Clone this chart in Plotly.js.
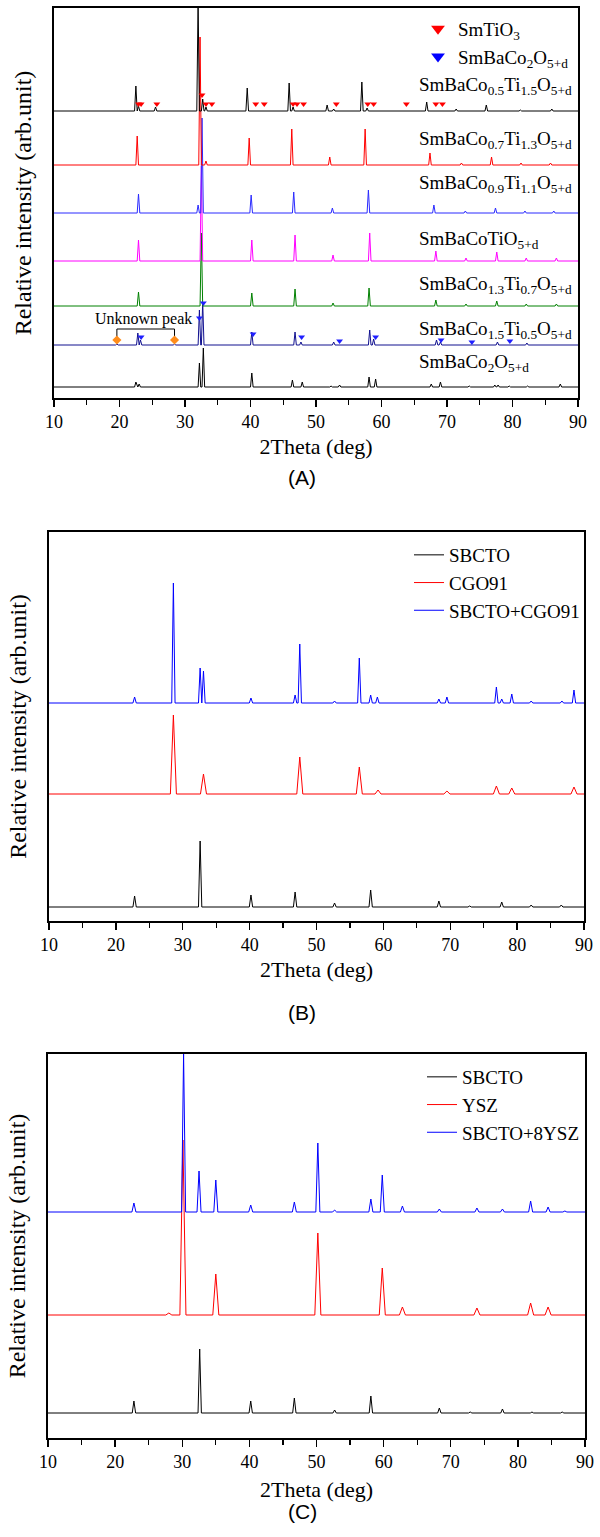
<!DOCTYPE html>
<html><head><meta charset="utf-8">
<script src="https://cdn.plot.ly/plotly-3.0.1.min.js"></script>
<style>html,body{margin:0;padding:0;background:#fff}#chart{width:600px;height:1537px}</style>
</head><body><div id="chart"></div>
<script>
// ---------- Panel A data (peak position in 2Theta, relative intensity) ----------
const A_labels = [
  'SmBaCo<sub>0.5</sub>Ti<sub>1.5</sub>O<sub>5+d</sub>',
  'SmBaCo<sub>0.7</sub>Ti<sub>1.3</sub>O<sub>5+d</sub>',
  'SmBaCo<sub>0.9</sub>Ti<sub>1.1</sub>O<sub>5+d</sub>',
  'SmBaCoTiO<sub>5+d</sub>',
  'SmBaCo<sub>1.3</sub>Ti<sub>0.7</sub>O<sub>5+d</sub>',
  'SmBaCo<sub>1.5</sub>Ti<sub>0.5</sub>O<sub>5+d</sub>',
  'SmBaCo<sub>2</sub>O<sub>5+d</sub>'
];
const a1_pos = [22.5, 22.9, 25.5, 32.0, 32.7, 33.2, 39.5, 45.9, 46.5, 51.7, 52.7, 57.0, 57.8, 66.9, 71.4, 76.0, 81.2, 86.0];
const a1_int = [25, 5, 4, 110, 12, 4, 23, 28, 4, 6, 2, 29, 3, 9, 2, 6, 1, 2];
const a2_pos = [22.7, 32.3, 33.2, 39.8, 46.3, 52.1, 57.5, 67.4, 72.2, 76.8, 81.3, 85.8];
const a2_int = [29, 128, 4, 27, 36, 8, 36, 12, 2, 8, 2, 2];
const a3_pos = [22.9, 32.0, 32.6, 40.1, 46.6, 52.5, 58.0, 68.0, 72.8, 77.4, 81.9, 86.3];
const a3_int = [19, 8, 95, 18, 21, 5, 23, 8, 2, 5, 2, 2];
const a4_pos = [22.9, 32.5, 40.2, 46.8, 52.6, 58.2, 68.3, 72.9, 77.6, 82.1, 86.7];
const a4_int = [21, 95, 21, 26, 6, 28, 10, 3, 9, 3, 3];
const a5_pos = [22.9, 32.5, 40.2, 46.8, 52.6, 58.1, 68.3, 72.9, 77.6, 82.1, 86.7];
const a5_int = [14, 73, 13, 17, 3, 18, 6, 2, 5, 2, 2];
const a6_pos = [19.6, 22.8, 23.2, 28.4, 32.2, 32.7, 40.2, 46.8, 47.7, 52.7, 58.2, 58.8, 68.4, 69.0, 77.7, 82.2];
const a6_int = [1, 12, 5, 1, 35, 43, 13, 13, 3, 3, 15, 6, 5, 3, 3, 2];
const a7_pos = [22.5, 23.0, 32.2, 32.8, 40.2, 46.4, 47.9, 52.3, 53.6, 58.1, 59.1, 67.6, 69.0, 73.4, 77.3, 77.8, 79.5, 82.3, 87.3];
const a7_int = [5, 3, 24, 39, 14, 7, 5, 1, 2, 10, 8, 3, 5, 1, 2, 2, 1, 1, 3];
// phase markers
const smtio3_x = [22.9, 23.3, 25.7, 32.6, 33.2, 34.1, 40.8, 42.1, 46.5, 47.1, 48.1, 53.1, 57.9, 58.8, 63.8, 68.3, 69.3];
const smtio3_y = [294, 294, 294, 303, 294, 294, 294, 294, 294, 294, 294, 294, 294, 294, 294, 294, 294];
const sbco_x = [23.3, 32.2, 32.8, 40.4, 47.8, 53.6, 59.1, 69.1, 73.8, 79.6];
const sbco_y = [61, 80, 95, 64, 61, 57, 61, 58, 56, 57];
const unknown_x = [19.6, 28.4];
const unknown_y = [58, 58];

// ---------- Panel B data ----------
const B_names = ['SBCTO', 'CGO91', 'SBCTO+CGO91'];
const b1_pos = [22.8, 32.6, 40.2, 46.8, 52.7, 58.1, 68.3, 72.9, 77.7, 82.1, 86.6];
const b1_int = [11, 66, 12, 15, 4, 17, 6, 1, 5, 2, 2];
const b2_pos = [28.6, 33.1, 47.5, 56.4, 59.2, 69.5, 76.9, 79.2, 88.5];
const b2_int = [79, 20, 37, 27, 4, 3, 8, 6, 7];
const b3_pos = [22.8, 28.6, 32.6, 33.1, 40.2, 46.8, 47.5, 52.7, 56.4, 58.1, 59.1, 68.3, 69.5, 76.9, 77.7, 79.2, 82.1, 86.7, 88.5];
const b3_int = [6, 120, 35, 32, 5, 8, 59, 2, 45, 8, 6, 4, 6, 16, 4, 9, 2, 2, 13];

// ---------- Panel C data ----------
const C_names = ['SBCTO', 'YSZ', 'SBCTO+8YSZ'];
const c1_pos = [22.8, 32.6, 40.2, 46.7, 52.7, 58.1, 68.3, 72.9, 77.7, 82.1, 86.6];
const c1_int = [12, 64, 12, 15, 3, 17, 5, 1, 4, 1, 1];
const c2_pos = [28.0, 30.1, 35.0, 50.2, 59.8, 62.8, 73.9, 81.9, 84.5];
const c2_int = [2, 175, 41, 82, 47, 8, 7, 12, 8];
const c3_pos = [22.8, 30.2, 32.5, 35.0, 40.2, 46.7, 50.2, 52.7, 58.1, 59.8, 62.8, 68.3, 73.9, 77.7, 81.9, 84.5, 87.0];
const c3_int = [9, 158, 41, 32, 7, 10, 69, 2, 13, 37, 6, 3, 4, 3, 11, 5, 1];

// ---------- layout / style config ----------
const W = 600, H = 1537;
const A_offsets = [287, 233, 185, 137, 92, 53, 11];
const A_colors = ['#000000', '#ff0000', '#2b2bff', '#ff00ff', '#008000', '#10108f', '#000000'];
const B_offsets = [14, 127, 218];
const C_offsets = [25, 123, 226];
const BC_colors = ['#000000', '#ff0000', '#0000ff'];

function spikes(pos, inten, base, hw) {
  const idx = pos.map((p, i) => i).sort((a, b) => pos[a] - pos[b]);
  const x = [10], y = [base];
  idx.forEach(i => { x.push(pos[i] - hw, pos[i], pos[i] + hw); y.push(base, base + inten[i], base); });
  x.push(90); y.push(base);
  return {x, y};
}
const py = p => 1 - p / H;

const traces = [];
const Apos = [a1_pos, a2_pos, a3_pos, a4_pos, a5_pos, a6_pos, a7_pos];
const Aint = [a1_int, a2_int, a3_int, a4_int, a5_int, a6_int, a7_int];
for (let i = Apos.length - 1; i >= 0; i--) {
  const s = spikes(Apos[i], Aint[i], A_offsets[i], 0.2);
  traces.push({x: s.x, y: s.y, xaxis: 'x', yaxis: 'y', mode: 'lines', showlegend: false,
    line: {color: A_colors[i], width: 1}, hoverinfo: 'skip'});
}
// unknown peak bracket + diamonds
traces.push({x: [unknown_x[0], unknown_x[0], unknown_x[1], unknown_x[1]], y: [unknown_y[0], 69, 69, unknown_y[1]],
  xaxis: 'x', yaxis: 'y', mode: 'lines', line: {color: '#000', width: 1}, showlegend: false});
traces.push({x: unknown_x, y: unknown_y, xaxis: 'x', yaxis: 'y', mode: 'markers', showlegend: false,
  marker: {symbol: 'diamond', size: 7, color: '#ff8c1a'}});
// phase markers
traces.push({x: smtio3_x, y: smtio3_y, xaxis: 'x', yaxis: 'y', mode: 'markers', showlegend: false,
  marker: {symbol: 'triangle-down', size: 6, color: '#ff0000'}});
traces.push({x: sbco_x, y: sbco_y, xaxis: 'x', yaxis: 'y', mode: 'markers', showlegend: false,
  marker: {symbol: 'triangle-down', size: 6, color: '#1f1fff'}});
// legend entries panel A
traces.push({x: [null], y: [null], xaxis: 'x', yaxis: 'y', mode: 'markers', name: 'SmTiO<sub>3</sub>', legend: 'legend',
  marker: {symbol: 'triangle-down', size: 12, color: '#ff0000'}});
traces.push({x: [null], y: [null], xaxis: 'x', yaxis: 'y', mode: 'markers', name: 'SmBaCo<sub>2</sub>O<sub>5+d</sub>', legend: 'legend',
  marker: {symbol: 'triangle-down', size: 12, color: '#0000ff'}});

// Panel B
const Bpos = [b1_pos, b2_pos, b3_pos], Bint = [b1_int, b2_int, b3_int], Bhw = [0.25, 0.45, 0.25];
for (let i = 0; i < 3; i++) {
  const s = spikes(Bpos[i], Bint[i], B_offsets[i], Bhw[i]);
  traces.push({x: s.x, y: s.y, xaxis: 'x2', yaxis: 'y2', mode: 'lines', name: B_names[i], legend: 'legend2',
    line: {color: BC_colors[i], width: 1}});
}
// Panel C
const Cpos = [c1_pos, c2_pos, c3_pos], Cint = [c1_int, c2_int, c3_int], Chw = [0.25, 0.45, 0.3];
for (let i = 0; i < 3; i++) {
  const s = spikes(Cpos[i], Cint[i], C_offsets[i], Chw[i]);
  traces.push({x: s.x, y: s.y, xaxis: 'x3', yaxis: 'y3', mode: 'lines', name: C_names[i], legend: 'legend3',
    line: {color: BC_colors[i], width: 1}});
}

const serif = 'Liberation Serif, Times New Roman, serif';
function xax(l, r, anchor, so) {
  return {domain: [l / W, r / W], anchor: anchor, range: [10, 90], tick0: 10, dtick: 10,
    ticks: 'outside', ticklen: 7, tickwidth: 1.3, tickcolor: '#000',
    showline: true, linewidth: 1.6, linecolor: '#000', mirror: true, showgrid: false, zeroline: false,
    tickfont: {family: serif, size: 18, color: '#000'},
    minor: {dtick: 5, ticks: 'outside', ticklen: 5, tickwidth: 1.2, tickcolor: '#000', showgrid: false},
    title: {text: '2Theta (deg)', font: {family: serif, size: 22, color: '#000'}, standoff: so}};
}
function yax(b, t, anchor, rng) {
  return {domain: [py(b), py(t)], anchor: anchor, range: rng, showticklabels: false, ticks: '',
    showline: true, linewidth: 1.6, linecolor: '#000', mirror: true, showgrid: false, zeroline: false,
    title: {text: 'Relative intensity (arb.unit)', font: {family: serif, size: 24, color: '#000'}, standoff: 14}};
}

const annotations = [];
const A_label_y = [312, 258, 214, 158, 113, 68, 35];
A_labels.forEach((t, i) => annotations.push({text: t, x: 65.4, y: A_label_y[i], xref: 'x', yref: 'y',
  xanchor: 'left', yanchor: 'middle', showarrow: false, font: {family: serif, size: 19, color: '#000'}}));
annotations.push({text: 'Unknown peak', x: 23.7, y: 79, xref: 'x', yref: 'y', showarrow: false,
  font: {family: serif, size: 16, color: '#000'}});
const sans = 'Liberation Sans, Arial, sans-serif';
[['(A)', 464], ['(B)', 1012], ['(C)', 1525]].forEach(p => annotations.push({text: p[0], x: 302 / W, y: py(p[1]),
  xref: 'paper', yref: 'paper', showarrow: false, font: {family: sans, size: 21, color: '#000'}}));

const legBase = {xref: 'paper', yref: 'paper', xanchor: 'left', yanchor: 'top', bgcolor: 'rgba(0,0,0,0)',
  font: {family: serif, size: 19, color: '#000'}, tracegroupgap: 0};
const layout = {
  width: W, height: H, margin: {l: 0, r: 0, t: 0, b: 0}, paper_bgcolor: '#fff', plot_bgcolor: '#fff',
  font: {family: serif, size: 18, color: '#000'},
  xaxis: xax(54, 578, 'y', 7), yaxis: yax(398, 8, 'x', [0, 390]),
  xaxis2: xax(49, 584, 'y2', 7), yaxis2: yax(921, 532, 'x2', [0, 389]),
  xaxis3: xax(48, 585, 'y3', 10), yaxis3: yax(1438, 1054, 'x3', [0, 384]),
  legend: Object.assign({}, legBase, {x: 418 / W, y: py(10), itemsizing: 'trace'}),
  legend2: Object.assign({}, legBase, {x: 409 / W, y: py(536)}),
  legend3: Object.assign({}, legBase, {x: 422 / W, y: py(1058)}),
  annotations: annotations,
  showlegend: true
};
Plotly.newPlot('chart', traces, layout, {staticPlot: true});
</script></body></html>
